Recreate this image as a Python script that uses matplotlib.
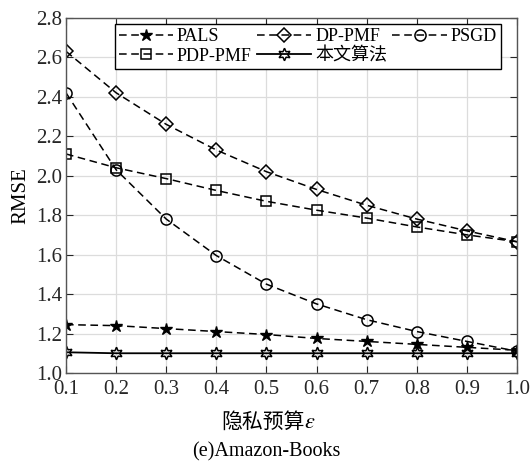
import matplotlib.pyplot as plt
from matplotlib.ticker import FormatStrFormatter

plt.rcParams['font.family'] = ['Liberation Serif', 'Noto Sans CJK SC', 'DejaVu Sans']
plt.rcParams['mathtext.fontset'] = 'stix'

# Data
eps = [0.1, 0.2, 0.3, 0.4, 0.5, 0.6, 0.7, 0.8, 0.9, 1.0]
pals = [1.245, 1.24, 1.225, 1.21, 1.195, 1.175, 1.16, 1.145, 1.13, 1.115]
dp_pmf = [2.63, 2.42, 2.26, 2.13, 2.02, 1.93, 1.85, 1.78, 1.72, 1.665]
psgd = [2.42, 2.03, 1.78, 1.595, 1.45, 1.35, 1.27, 1.21, 1.16, 1.11]
pdp_pmf = [2.11, 2.04, 1.985, 1.925, 1.87, 1.825, 1.785, 1.74, 1.70, 1.665]
ours = [1.105, 1.10, 1.10, 1.10, 1.10, 1.10, 1.10, 1.10, 1.10, 1.10]

fig = plt.figure(figsize=(5.32, 4.68), dpi=100)
ax = fig.add_axes([0.124, 0.203, 0.848, 0.759])

dash = (0, (5, 3))
h_pals, = ax.plot(eps, pals, color='black', ls=dash, lw=1.1, marker='*',
                  ms=9, mfc='black', mec='black', label='PALS')
h_dp, = ax.plot(eps, dp_pmf, color='black', ls=dash, lw=1.1, marker='D',
                ms=7, mfc='none', mec='black', mew=1.1, label='DP-PMF')
h_psgd, = ax.plot(eps, psgd, color='black', ls=dash, lw=1.1, marker='o',
                  ms=8, mfc='none', mec='black', mew=1.1, label='PSGD')
h_pdp, = ax.plot(eps, pdp_pmf, color='black', ls=dash, lw=1.1, marker='s',
                 ms=7, mfc='none', mec='black', mew=1.1, label='PDP-PMF')
h_ours, = ax.plot(eps, ours, color='black', ls='-', lw=1.3, marker=(6, 1, 0),
                  ms=9, mfc='none', mec='black', mew=1.1, label='本文算法')

ax.set_xlim(0.1, 1.0)
ax.set_ylim(1.0, 2.8)
ax.set_xticks(eps)
ax.set_yticks([1.0, 1.2, 1.4, 1.6, 1.8, 2.0, 2.2, 2.4, 2.6, 2.8])
ax.xaxis.set_major_formatter(FormatStrFormatter('%.1f'))
ax.yaxis.set_major_formatter(FormatStrFormatter('%.1f'))
ax.tick_params(direction='in', top=True, right=True, labelsize=15,
               length=5, colors='#262626')
ax.tick_params(axis='x', pad=5)
ax.tick_params(axis='y', pad=3)
ax.grid(True, color='#dcdcdc', lw=0.9)
for s in ax.spines.values():
    s.set_color('#555555')
    s.set_linewidth(1.0)

ax.set_ylabel('RMSE', fontsize=15, labelpad=4)
# x label: Chinese text plus italic epsilon
fig.text(0.495, 0.098, '隐私预算', ha='center', va='center', fontsize=15,
         family=['Noto Sans CJK SC'])
fig.text(0.583, 0.095, '$\\varepsilon$', ha='center', va='center', fontsize=16)
fig.text(0.50, 0.035, '(e)Amazon-Books', ha='center', va='center', fontsize=14.5)

leg = ax.legend([h_pals, h_pdp, h_dp, h_ours, h_psgd],
                ['PALS', 'PDP-PMF', 'DP-PMF', '本文算法', 'PSGD'],
                ncol=3, loc='upper left', bbox_to_anchor=(0.108, 0.983),
                fontsize=13, frameon=True, fancybox=False, framealpha=1,
                edgecolor='black', handlelength=3.0, handletextpad=0.2,
                columnspacing=0.3, borderpad=0.25, labelspacing=0.12,
                borderaxespad=0)
leg.get_frame().set_linewidth(1.0)

fig.savefig('out.png', dpi=100)
